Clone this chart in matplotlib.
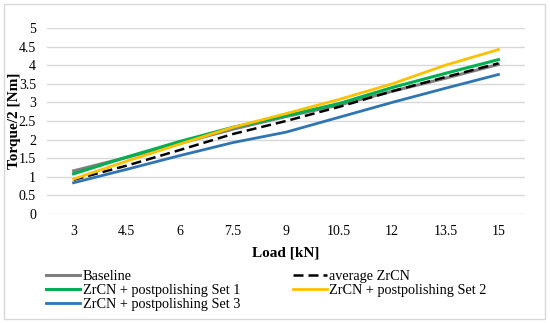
# torque vs load chart, Excel-style line plot
import matplotlib
matplotlib.use("Agg")
import matplotlib.pyplot as plt
from matplotlib.patches import Rectangle

loads = ["3", "4.5", "6", "7.5", "9", "10.5", "12", "13.5", "15"]

baseline = [1.16, 1.52, 1.90, 2.28, 2.62, 2.93, 3.30, 3.65, 4.02]
avg_zrcn = [0.92, 1.30, 1.72, 2.15, 2.50, 2.88, 3.30, 3.68, 4.05]
set1 = [1.08, 1.53, 1.95, 2.33, 2.64, 2.97, 3.40, 3.78, 4.15]
set2 = [0.94, 1.42, 1.88, 2.33, 2.70, 3.08, 3.50, 4.00, 4.42]
set3 = [0.84, 1.20, 1.57, 1.92, 2.20, 2.60, 3.00, 3.38, 3.75]

y_ticks = [0, 0.5, 1, 1.5, 2, 2.5, 3, 3.5, 4, 4.5, 5]

plt.rcParams["font.family"] = ["Liberation Serif", "DejaVu Serif"]

fig = plt.figure(figsize=(5.5, 3.23), dpi=100)
ax = fig.add_axes([47 / 550, 1 - 214 / 323, 478 / 550, 186 / 323])

x = list(range(len(loads)))
ax.plot(x, baseline, color="#7f7f7f", lw=2.2, label="Baseline")
ax.plot(x, set1, color="#00b050", lw=2.2, label="ZrCN + postpolishing Set 1")
ax.plot(x, set3, color="#2e75b6", lw=2.0, label="ZrCN + postpolishing Set 3")
ax.plot(x, avg_zrcn, color="black", lw=1.8, ls=(0, (4, 2)), label="average ZrCN")
ax.plot(x, set2, color="#ffc000", lw=2.0, label="ZrCN + postpolishing Set 2")

ax.set_xlim(-0.5, len(loads) - 0.5)
ax.set_ylim(0, 5)
ax.set_xticks(x)
ax.set_xticklabels(loads)
ax.set_yticks(y_ticks)
ax.set_yticklabels([f"{v:g}" for v in y_ticks])
ax.tick_params(length=0, labelsize=10, pad=8)
ax.grid(axis="y", color="#d9d9d9", lw=1)
ax.set_axisbelow(True)
for s in ax.spines.values():
    s.set_visible(False)

ax.set_xlabel("Load [kN]", fontweight="bold", fontsize=11, labelpad=6)
ax.set_ylabel("Torque/2 [Nm]", fontweight="bold", fontsize=11)
# label sits over the tick labels, like the reference
ax.yaxis.set_label_coords(-26 / 478, 0.5)

h, l = ax.get_legend_handles_labels()
# legend fills columns first: col1 = Baseline, Set 1, Set 3; col2 = average, Set 2
leg = fig.legend(h, l, ncol=2, loc="upper left",
                 bbox_to_anchor=(39 / 550, 1 - 263 / 323), frameon=False,
                 fontsize=10.3, handlelength=2.4, handletextpad=0.15,
                 columnspacing=3.7, labelspacing=0.08, borderpad=0)

fig.patches.append(Rectangle((4 / 550, 4 / 323), 541 / 550, 315 / 323,
                             transform=fig.transFigure, fill=False,
                             ec="#d9d9d9", lw=1))

fig.savefig("out.png", dpi=100)
